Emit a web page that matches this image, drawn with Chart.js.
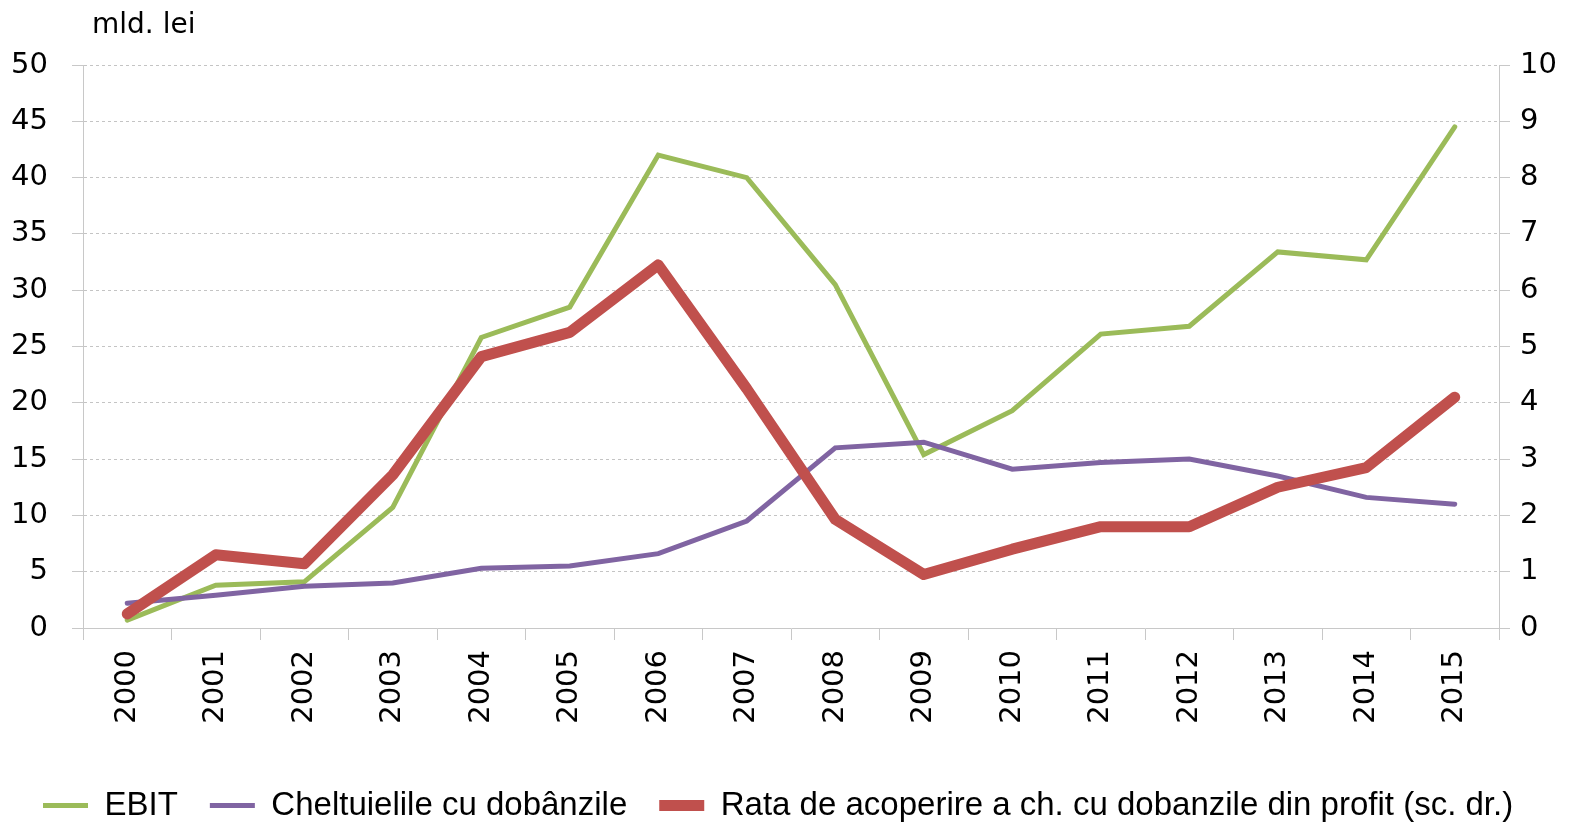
<!DOCTYPE html>
<html lang="ro">
<head>
<meta charset="utf-8">
<title>EBIT si cheltuieli cu dobanzile</title>
<script src="https://cdn.jsdelivr.net/npm/chart.js@4/dist/chart.umd.min.js"></script>
<style>
  html, body { margin: 0; padding: 0; background: #fff; }
  #wrap { width: 1575px; height: 825px; }
</style>
</head>
<body>
<div id="wrap"><canvas id="chart"></canvas></div>
<script>
const years = ['2000', '2001', '2002', '2003', '2004', '2005', '2006', '2007',
  '2008', '2009', '2010', '2011', '2012', '2013', '2014', '2015'];
const ebit = [0.7, 3.8, 4.1, 10.7, 25.8, 28.5, 42.0, 40.0, 30.5, 15.4, 19.3, 26.1, 26.8, 33.4, 32.7, 44.5];
const dobanzi = [2.2, 2.9, 3.7, 4.0, 5.3, 5.5, 6.6, 9.5, 16.0, 16.5, 14.1, 14.7, 15.0, 13.5, 11.6, 11.0];
const rata = [0.25, 1.3, 1.14, 2.72, 4.82, 5.25, 6.45, 4.25, 1.93, 0.95, 1.4, 1.8, 1.8, 2.5, 2.85, 4.1];
const leftTicks = [0, 5, 10, 15, 20, 25, 30, 35, 40, 45, 50];
const rightTicks = [0, 1, 2, 3, 4, 5, 6, 7, 8, 9, 10];

const GREEN = '#9bbb59';
const PURPLE = '#8064a2';
const RED = '#c0504d';
const FONT = "'DejaVu Sans', sans-serif";

// "mld. lei" label above the left axis
const unitLabel = {
  id: 'unitLabel',
  afterDraw(chart) {
    const ctx = chart.ctx;
    ctx.save();
    ctx.font = "28px 'DejaVu Sans', sans-serif";
    ctx.fillStyle = '#000';
    ctx.textBaseline = 'middle';
    ctx.fillText('mld. lei', chart.chartArea.left + 9, 26);
    ctx.restore();
  }
};

// nudge the legend a little lower
const legendShift = {
  id: 'legendShift',
  afterLayout(chart) {
    chart.legend.top += 7;
    chart.legend.bottom += 7;
  }
};

const config = {
  type: 'line',
  data: {
    labels: years,
    datasets: [{
      label: 'EBIT',
      data: ebit,
      borderColor: GREEN,
      backgroundColor: GREEN,
      borderWidth: 5,
      borderJoinStyle: 'miter',
      yAxisID: 'y',
      pointStyle: 'line',
      order: 3
    }, {
      label: 'Cheltuielile cu dobânzile',
      data: dobanzi,
      borderColor: PURPLE,
      backgroundColor: PURPLE,
      borderWidth: 5,
      borderJoinStyle: 'miter',
      yAxisID: 'y',
      pointStyle: 'line',
      order: 2
    }, {
      label: 'Rata de acoperire a ch. cu dobanzile din profit (sc. dr.)',
      data: rata,
      borderColor: RED,
      backgroundColor: RED,
      borderWidth: 11,
      yAxisID: 'y1',
      pointStyle: 'line',
      order: 1
    }]
  },
  options: {
    responsive: true,
    maintainAspectRatio: false,
    animation: false,
    layout: { padding: { top: 65, left: 11, right: 18, bottom: 0 } },
    elements: {
      point: { radius: 0, hoverRadius: 0 },
      line: { tension: 0, borderCapStyle: 'round', borderJoinStyle: 'round' }
    },
    plugins: {
      legend: {
        position: 'bottom',
        align: 'start',
        labels: {
          usePointStyle: true,
          pointStyleWidth: 45,
          padding: 32,
          color: '#000',
          sort: (a, b) => a.datasetIndex - b.datasetIndex,
          font: { family: "'Liberation Sans', sans-serif", size: 33 }
        }
      },
      tooltip: { enabled: false }
    },
    scales: {
      x: {
        offset: true,
        afterFit(axis) { axis.height = 122; },
        grid: { offset: true, drawOnChartArea: false, tickLength: 12, color: '#c8c8c8' },
        border: { color: '#c8c8c8' },
        ticks: {
          minRotation: 90, maxRotation: 90, padding: 10,
          color: '#000', font: { family: FONT, size: 29 }
        }
      },
      y: {
        position: 'left',
        min: 0, max: 50,
        afterBuildTicks(axis) { axis.ticks = leftTicks.map(v => ({ value: v })); },
        afterFit(axis) { axis.width = 72; },
        grid: { color: '#c4c4c4', tickLength: 11, tickColor: '#c8c8c8' },
        border: { color: '#c8c8c8', dash: [3, 3] },
        ticks: { padding: 24, color: '#000', font: { family: FONT, size: 29 } }
      },
      y1: {
        position: 'right',
        min: 0, max: 10,
        afterBuildTicks(axis) { axis.ticks = rightTicks.map(v => ({ value: v })); },
        afterFit(axis) { axis.width = 58; },
        grid: { drawOnChartArea: false, tickLength: 11, color: '#c8c8c8' },
        border: { color: '#c8c8c8' },
        ticks: { padding: 10, color: '#000', font: { family: FONT, size: 29 } }
      }
    }
  },
  plugins: [unitLabel, legendShift]
};

window.onload = function () {
  const ctx = document.getElementById('chart').getContext('2d');
  window.myChart = new Chart(ctx, config);
};
</script>
</body>
</html>
